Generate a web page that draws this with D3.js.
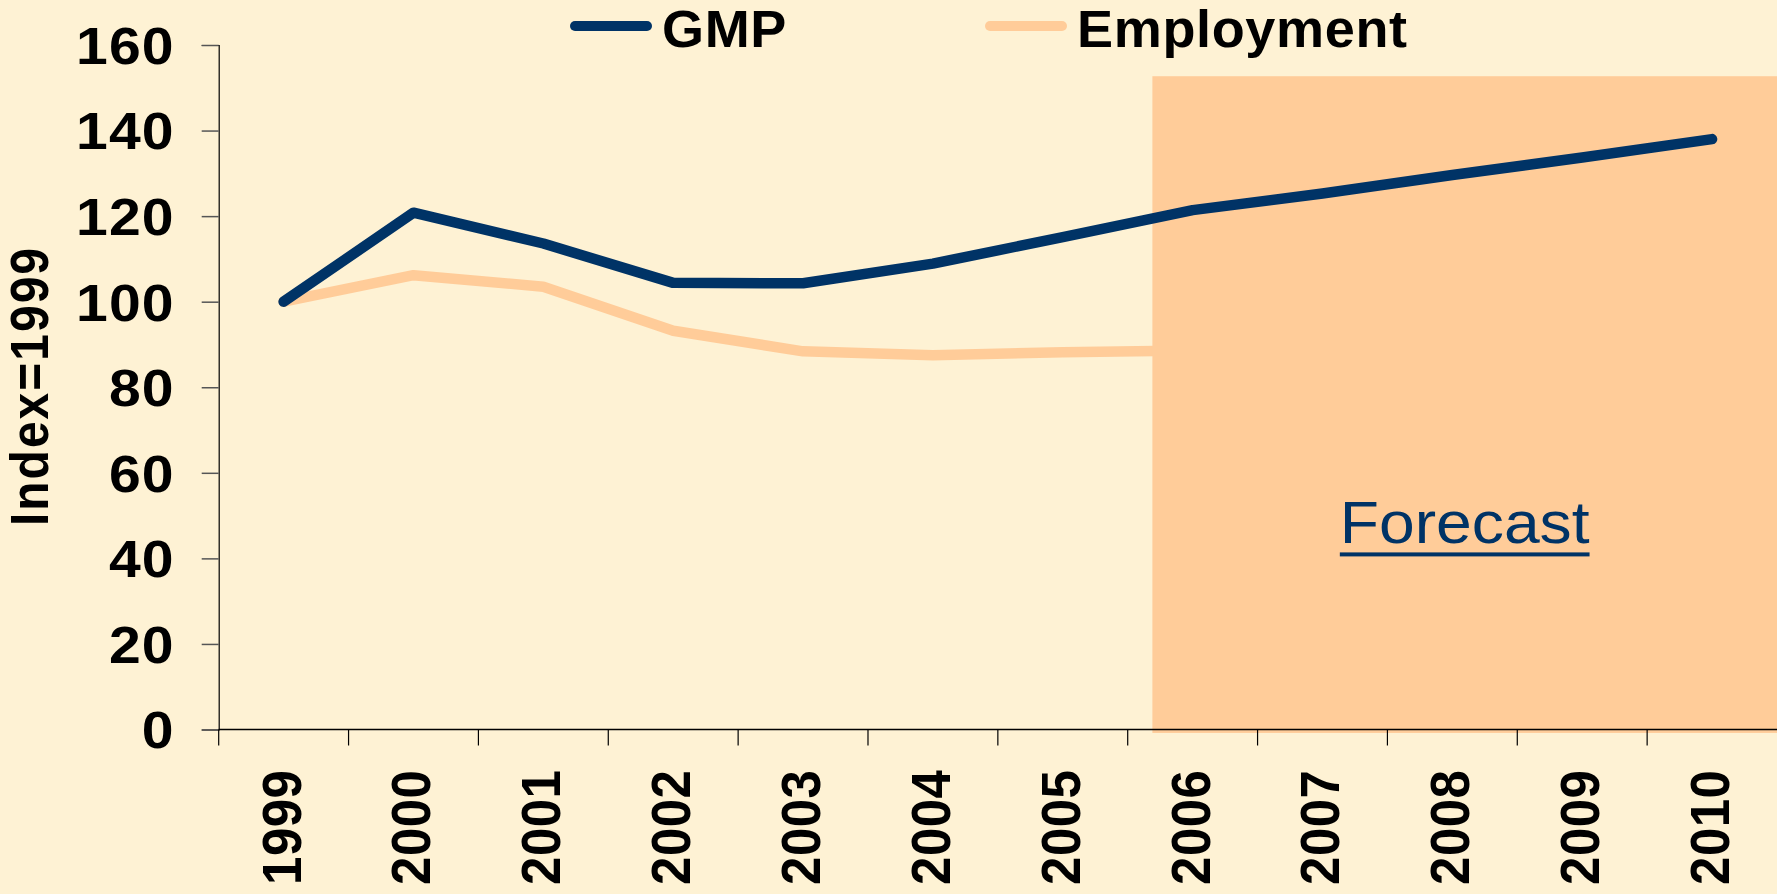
<!DOCTYPE html>
<html>
<head>
<meta charset="utf-8">
<script src="https://cdn.jsdelivr.net/npm/d3@7/dist/d3.min.js"></script>
<style>
  html, body { margin: 0; padding: 0; background: #FEF2D4; }
  svg { display: block; }
  text { font-family: "Liberation Sans", Arial, sans-serif; }
</style>
</head>
<body>
<svg id="chart" width="1777" height="894"></svg>
<script>
// ---- data ----
const years = [1999, 2000, 2001, 2002, 2003, 2004, 2005, 2006, 2007, 2008, 2009, 2010];
const gmp = [100, 120.8, 113.6, 104.4, 104.3, 108.9, 115.1, 121.4, 125.3, 129.6, 133.7, 138.0];
const employmentYears = [1999, 2000, 2001, 2002, 2003, 2004, 2005, 2006];
const employment = [100, 106.2, 103.5, 93.2, 88.4, 87.5, 88.2, 88.6];
const yTicks = [0, 20, 40, 60, 80, 100, 120, 140, 160];
const seriesNames = ["GMP", "Employment"];
const forecastLabel = "Forecast";
const yTitle = "Index=1999";

// ---- layout ----
const W = 1777, H = 894;
const mLeft = 218.7, mRight = 1777, mTop = 45, mBottom = 729.5;
const colors = { GMP: "#003366", Employment: "#FFCC99" };
const SX = 1.1; // horizontal glyph stretch seen in the reference

const svg = d3.select("#chart");
svg.append("rect").attr("width", W).attr("height", H).attr("fill", "#FEF2D4");

const x = d3.scaleLinear().domain([years[0] - 0.5, years[years.length - 1] + 0.5]).range([mLeft, mRight]);
const y = d3.scaleLinear().domain([0, 160]).range([mBottom, mTop]);

const line = d3.line().x(d => x(d[0])).y(d => y(d[1]));

// employment line (behind forecast box)
svg.append("path")
  .datum(employmentYears.map((yr, i) => [yr, employment[i]]))
  .attr("d", line)
  .attr("fill", "none")
  .attr("stroke", colors.Employment)
  .attr("stroke-width", 10.5)
  .attr("stroke-linecap", "round")
  .attr("stroke-linejoin", "round");

// forecast box
const fcStart = 2005.69, fcTop = 152.7, fcBottom = -0.8;
svg.append("rect")
  .attr("x", x(fcStart))
  .attr("y", y(fcTop))
  .attr("width", mRight - x(fcStart))
  .attr("height", y(fcBottom) - y(fcTop))
  .attr("fill", "#FFCC99");

// GMP line
svg.append("path")
  .datum(years.map((yr, i) => [yr, gmp[i]]))
  .attr("d", line)
  .attr("fill", "none")
  .attr("stroke", colors.GMP)
  .attr("stroke-width", 10.5)
  .attr("stroke-linecap", "round")
  .attr("stroke-linejoin", "round");

// forecast label
const fcCx = (x(fcStart) + mRight) / 2;
const fcG = svg.append("g").attr("transform", `translate(${fcCx},${y(43.5)}) scale(1.07,1)`);
const fcText = fcG.append("text")
  .attr("x", 0).attr("y", 0)
  .attr("text-anchor", "middle")
  .attr("font-size", 60)
  .attr("fill", "#003366")
  .text(forecastLabel);
const bb = fcText.node().getBBox();
fcG.append("rect")
  .attr("x", bb.x)
  .attr("y", 9)
  .attr("width", bb.width)
  .attr("height", 4)
  .attr("fill", "#003366");

// y axis
const yAxis = d3.axisLeft(y).tickValues(yTicks).tickSize(17).tickFormat(d3.format("d"));
const gy = svg.append("g").attr("transform", `translate(${mLeft},0)`).call(yAxis);
gy.select(".domain").attr("stroke", "#000").attr("stroke-width", 1.2);
gy.selectAll(".tick line").attr("stroke", "#555").attr("stroke-width", 1.5);
gy.selectAll(".tick text")
  .attr("font-size", 51).attr("font-weight", "bold").attr("fill", "#000")
  .attr("letter-spacing", 1)
  .attr("font-family", "'Liberation Sans', Arial, sans-serif")
  .attr("x", -44 / 1.12)
  .attr("transform", "scale(1.12,1)")
  .attr("dy", "0.36em");

// x axis: line, boundary ticks, centered rotated labels
const gx = svg.append("g");
gx.append("line")
  .attr("x1", mLeft).attr("x2", mRight)
  .attr("y1", y(0)).attr("y2", y(0))
  .attr("stroke", "#000").attr("stroke-width", 1.5);
gx.selectAll("line.tk")
  .data(years)
  .join("line")
  .attr("class", "tk")
  .attr("x1", d => x(d - 0.5)).attr("x2", d => x(d - 0.5))
  .attr("y1", y(0)).attr("y2", y(0) + 16)
  .attr("stroke", "#000").attr("stroke-width", 1.2);
gx.selectAll("text")
  .data(years)
  .join("text")
  .attr("transform", d => `translate(${x(d) + 17},${y(0) + 40}) scale(${SX},1) rotate(-90)`)
  .attr("text-anchor", "end")
  .attr("font-size", 51)
  .attr("font-weight", "bold")
  .attr("letter-spacing", 0.5)
  .attr("fill", "#000")
  .text(d => d);

// y title
svg.append("text")
  .attr("transform", `translate(48,386) scale(${SX},1) rotate(-90)`)
  .attr("text-anchor", "middle")
  .attr("font-size", 48)
  .attr("font-weight", "bold")
  .attr("letter-spacing", 2)
  .attr("fill", "#000")
  .text(yTitle);

// legend
const legendPos = [{ lx: 570, tx: 662 }, { lx: 985, tx: 1077 }];
seriesNames.forEach((name, i) => {
  const p = legendPos[i];
  svg.append("line")
    .attr("x1", p.lx + 5).attr("x2", p.lx + 77)
    .attr("y1", 26).attr("y2", 26)
    .attr("stroke", colors[name]).attr("stroke-width", 10)
    .attr("stroke-linecap", "round");
  svg.append("text")
    .attr("transform", `translate(${p.tx},46.5) scale(1.06,1)`)
    .attr("font-size", 51).attr("font-weight", "bold")
    .attr("letter-spacing", 0.6)
    .attr("fill", "#000")
    .text(name);
});
</script>
</body>
</html>
